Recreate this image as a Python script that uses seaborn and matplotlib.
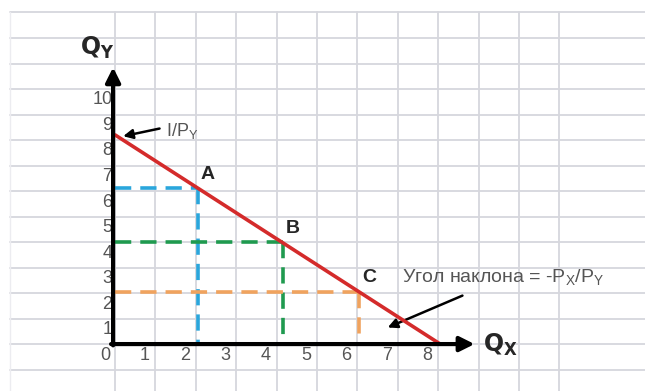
import matplotlib
matplotlib.use("Agg")
import matplotlib.pyplot as plt
import seaborn as sns
import pandas as pd

# budget line: intercepts on the two axes
y_intercept = 8.2
x_intercept = 8.05

# bundles on the budget line
point_names = ["A", "B", "C"]
point_x = [2.05, 4.15, 6.05]
point_y = [6.1, 4.0, 2.05]
point_colors = ["#2aa6dc", "#1f9a4f", "#f0a35e"]

tick_labels_x = ["1", "2", "3", "4", "5", "6", "7", "8"]
tick_labels_y = ["1", "2", "3", "4", "5", "6", "7", "8", "9", "10"]

sns.set_theme(style="white")
plt.rcParams["font.family"] = ["Liberation Sans", "DejaVu Sans"]

fig = plt.figure(figsize=(6.45, 3.91), dpi=100)
ax = fig.add_axes([0, 0, 1, 1])
ax.set_xlim(-2.85, 13.12)
ax.set_ylim(-1.84, 13.49)
ax.axis("off")

# graph paper background
grid_c = "#d6d7dd"
for gy in range(-1, 14):
    ax.plot([-2.6, 13.2], [gy, gy], color=grid_c, lw=1.3, zorder=0)
for gx in range(0, 12):
    ax.plot([gx, gx], [-2, 13], color=grid_c, lw=1.3, zorder=0)
ax.plot([-2.6, -2.6], [-2, 13], color="#ececf0", lw=1.0, zorder=0)

# axes with arrows
ax.annotate("", xy=(-0.05, 10.85), xytext=(-0.05, -0.05),
            arrowprops=dict(arrowstyle="-|>", color="black", lw=3, mutation_scale=22, shrinkA=0, shrinkB=0), zorder=5)
ax.annotate("", xy=(8.9, 0), xytext=(-0.1, 0),
            arrowprops=dict(arrowstyle="-|>", color="black", lw=3, mutation_scale=22, shrinkA=0, shrinkB=0), zorder=5)

ax.text(-0.45, 11.6, r"$\mathbf{Q}_\mathbf{Y}$", fontsize=17, ha="center", va="center")
ax.text(9.55, -0.05, r"$\mathbf{Q}_\mathbf{X}$", fontsize=17, ha="center", va="center")

# tick labels, placed left/below of their gridline like on the drawing
lab_c = "#555555"
ax.text(-0.25, -0.43, "0", fontsize=13, color=lab_c, ha="center", va="center")
for i, lab in enumerate(tick_labels_x):
    ax.text(i + 1 - 0.27, -0.43, lab, fontsize=13, color=lab_c, ha="center", va="center")
for i, lab in enumerate(tick_labels_y):
    ax.text(-0.07, i + 1 - 0.43, lab, fontsize=13, color=lab_c, ha="right", va="center")

# budget line
line_df = pd.DataFrame({"qx": [0, x_intercept], "qy": [y_intercept, 0]})
sns.lineplot(data=line_df, x="qx", y="qy", color="#d42b2b", lw=2.6, ax=ax, zorder=4)

# dashed projections to the axes
for px, py, col in zip(point_x, point_y, point_colors):
    ax.plot([0, px], [py, py], color=col, lw=2.6, dashes=(4.5, 2.5), zorder=3)
    ax.plot([px, px], [py, 0], color=col, lw=2.6, dashes=(4.5, 2.5), zorder=3)

for name, px, py in zip(point_names, point_x, point_y):
    ax.text(px + 0.25, py + 0.55, name, fontsize=14, fontweight="bold", ha="center", va="center")

# annotations
ax.annotate("", xy=(0.2, 8.15), xytext=(1.1, 8.45),
            arrowprops=dict(arrowstyle="-|>", color="black", lw=1.8, mutation_scale=14, shrinkA=0, shrinkB=0))
ax.text(1.25, 8.35, r"I/P$_\mathregular{Y}$", fontsize=13, color=lab_c, ha="left", va="center")

ax.annotate("", xy=(6.75, 0.65), xytext=(8.6, 1.9),
            arrowprops=dict(arrowstyle="-|>", color="black", lw=1.8, mutation_scale=14, shrinkA=0, shrinkB=0))
ax.text(7.1, 2.6, r"Угол наклона = -P$_\mathregular{X}$/P$_\mathregular{Y}$", fontsize=14, color=lab_c,
        ha="left", va="center")

plt.savefig("out.png", dpi=100)
